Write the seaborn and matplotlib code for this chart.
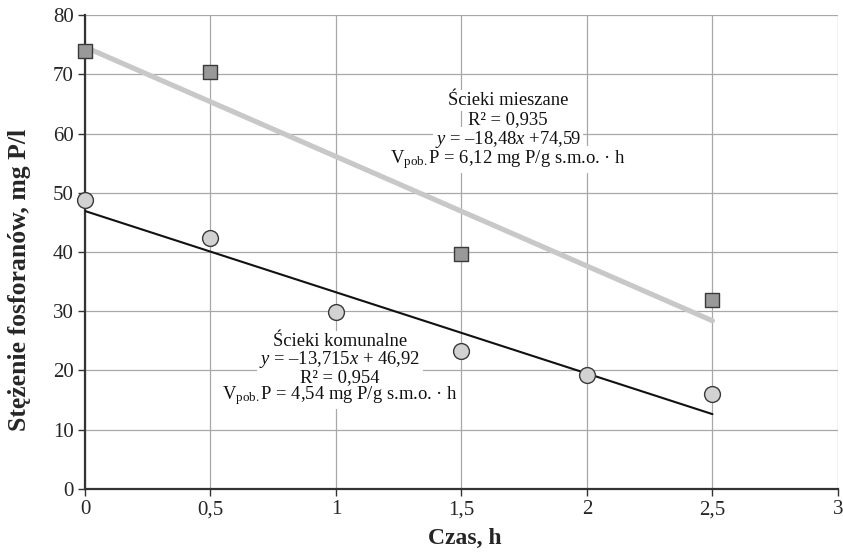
import numpy as np
import pandas as pd
import matplotlib.pyplot as plt
import seaborn as sns

# Data
czas_mieszane = [0, 0.5, 1.5, 2.5]
stez_mieszane = [73.9, 70.4, 39.7, 31.9]

czas_komunalne = [0, 0.5, 1, 1.5, 2, 2.5]
stez_komunalne = [48.8, 42.4, 29.9, 23.3, 19.2, 16.0]

# Regression coefficients given on the chart
fit_mieszane = (-18.48, 74.59)
fit_komunalne = (-13.715, 46.92)
fit_range = [0, 2.5]

x_ticks = [0, 0.5, 1, 1.5, 2, 2.5, 3]
x_tick_labels = ["0", "0,5", "1", "1,5", "2", "2,5", "3"]
y_ticks = [0, 10, 20, 30, 40, 50, 60, 70, 80]

lines_mieszane = ["Ścieki mieszane",
                  "R² = 0,935",
                  "$y$ = –18,48$x$ +74,59",
                  "V$_{\\mathrm{pob.}}$P = 6,12 mg P/g s.m.o. · h"]
lines_komunalne = ["Ścieki komunalne",
                   "$y$ = –13,715$x$ + 46,92",
                   "R² = 0,954",
                   "V$_{\\mathrm{pob.}}$P = 4,54 mg P/g s.m.o. · h"]

sns.set_style("white")
plt.rcParams['font.family'] = ['Liberation Serif', 'DejaVu Serif']
plt.rcParams['mathtext.fontset'] = 'custom'
plt.rcParams['mathtext.rm'] = 'Liberation Serif'
plt.rcParams['mathtext.it'] = 'Liberation Serif:italic'
plt.rcParams['mathtext.bf'] = 'Liberation Serif:bold'

fig = plt.figure(figsize=(8.43, 5.58), dpi=100)
ax = fig.add_axes([0.1008, 0.1237, 0.8932, 0.8494])

# -----------------------------
# Fit lines
# -----------------------------
fx = np.array(fit_range)
fit_m = pd.DataFrame({'x': fx, 'y': fit_mieszane[0] * fx + fit_mieszane[1]})
fit_k = pd.DataFrame({'x': fx, 'y': fit_komunalne[0] * fx + fit_komunalne[1]})

sns.lineplot(data=fit_m, x='x', y='y', ax=ax, color='#c8c8c8', linewidth=3.7, zorder=3)
sns.lineplot(data=fit_k, x='x', y='y', ax=ax, color='#111111', linewidth=1.5, zorder=3)

# -----------------------------
# Points
# -----------------------------
sns.scatterplot(x=czas_mieszane, y=stez_mieszane, ax=ax, marker='s', s=110,
                color='#999999', edgecolor='#3a3a3a', linewidth=1, zorder=5, clip_on=False)
sns.scatterplot(x=czas_komunalne, y=stez_komunalne, ax=ax, marker='o', s=130,
                color='#d2d2d2', edgecolor='#3a3a3a', linewidth=1, zorder=5, clip_on=False)

# -----------------------------
# Axes
# -----------------------------
ax.set_xlim(0, 3)
ax.set_ylim(0, 80)
ax.set_xticks(x_ticks)
ax.set_xticklabels(x_tick_labels)
ax.set_yticks(y_ticks)
ax.grid(True, color='#a8a8a8', linewidth=0.9)
ax.set_axisbelow(True)

for side in ['top', 'right']:
    ax.spines[side].set_visible(False)
for side in ['left', 'bottom']:
    ax.spines[side].set_color('#333333')
    ax.spines[side].set_linewidth(1.6)

ax.tick_params(axis='both', labelsize=15, length=5, width=1, color='#333333',
               direction='out', left=True, bottom=True, pad=3)

ax.set_xlabel("Czas, h", fontsize=17, fontweight='bold')
ax.set_ylabel("Stężenie fosforanów, mg P/l", fontsize=18.5, fontweight='bold')
ax.xaxis.set_label_coords(0.505, -0.082)
ax.yaxis.set_label_coords(-0.072, 0.44)

# -----------------------------
# Annotations: white boxes first, then the text on top
# -----------------------------
box = dict(facecolor='white', edgecolor='none', pad=1.5)


def draw_block(lines, x, y, step):
    for i, line in enumerate(lines):
        ax.annotate(line, xy=(x, y), xytext=(0, -i * step), textcoords='offset points',
                    ha='center', va='baseline', fontsize=13.4, color='none',
                    bbox=box, zorder=2.4)
        ax.annotate(line, xy=(x, y), xytext=(0, -i * step), textcoords='offset points',
                    ha='center', va='baseline', fontsize=13.4, color='#111111',
                    zorder=2.6)


draw_block(lines_mieszane, 1.685, 64.8, 13.9)
draw_block(lines_komunalne, 1.016, 24.1, 12.8)

plt.savefig("out.png", dpi=100)
